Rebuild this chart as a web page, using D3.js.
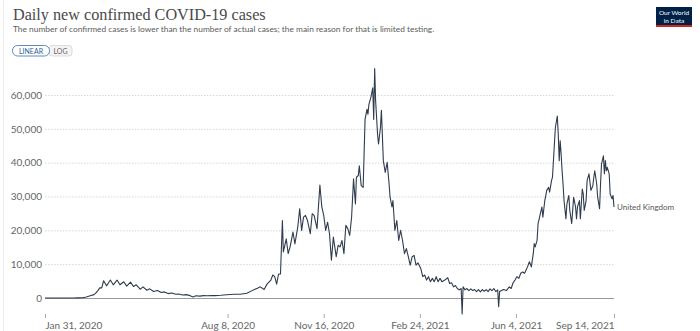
<!DOCTYPE html>
<html>
<head>
<meta charset="utf-8">
<script src="https://cdn.jsdelivr.net/npm/d3@7"></script>
<style>
  body { margin: 0; background: #fff; }
  text { font-family: Lato, "Open Sans", sans-serif; }
</style>
</head>
<body>
<svg id="chart" width="700" height="331"></svg>
<script>
// daily new confirmed cases, United Kingdom
const ukDaily = [
  ["2020-01-31", 2], ["2020-02-15", 1], ["2020-03-01", 12], ["2020-03-05", 50],
  ["2020-03-10", 80], ["2020-03-14", 300], ["2020-03-18", 650], ["2020-03-22", 1000],
  ["2020-03-24", 1500], ["2020-03-26", 2200], ["2020-03-28", 3000], ["2020-03-30", 3000],
  ["2020-04-01", 5100], ["2020-04-04", 3600], ["2020-04-08", 5300], ["2020-04-11", 3900],
  ["2020-04-15", 5300], ["2020-04-18", 3900], ["2020-04-22", 4800], ["2020-04-25", 3500],
  ["2020-04-29", 4700], ["2020-05-02", 3400], ["2020-05-05", 3900], ["2020-05-09", 2600],
  ["2020-05-12", 3300], ["2020-05-16", 2300], ["2020-05-19", 2700], ["2020-05-23", 1900],
  ["2020-05-27", 2200], ["2020-05-31", 1600], ["2020-06-03", 1800], ["2020-06-07", 1300],
  ["2020-06-11", 1500], ["2020-06-15", 1100], ["2020-06-18", 1200], ["2020-06-22", 900],
  ["2020-06-26", 1000], ["2020-06-30", 700], ["2020-07-03", 300], ["2020-07-06", 650],
  ["2020-07-10", 550], ["2020-07-14", 700], ["2020-07-18", 650], ["2020-07-22", 750],
  ["2020-07-26", 700], ["2020-08-01", 800], ["2020-08-07", 950], ["2020-08-15", 1100],
  ["2020-08-21", 1100], ["2020-08-28", 1400], ["2020-09-04", 2400], ["2020-09-08", 2900],
  ["2020-09-11", 3300], ["2020-09-15", 2500], ["2020-09-18", 4100], ["2020-09-22", 5300],
  ["2020-09-24", 6800], ["2020-09-26", 6300], ["2020-09-28", 4100], ["2020-09-30", 7100],
  ["2020-10-02", 7100], ["2020-10-04", 22900], ["2020-10-05", 13600], ["2020-10-08", 17500],
  ["2020-10-10", 13100], ["2020-10-12", 15100], ["2020-10-15", 19500], ["2020-10-17", 16000],
  ["2020-10-20", 21000], ["2020-10-22", 26400], ["2020-10-24", 20000], ["2020-10-26", 23900],
  ["2020-10-28", 24400], ["2020-10-30", 23000], ["2020-11-02", 19000], ["2020-11-04", 24900],
  ["2020-11-06", 24400], ["2020-11-09", 20500], ["2020-11-12", 33400], ["2020-11-14", 26900],
  ["2020-11-16", 24400], ["2020-11-18", 20000], ["2020-11-20", 22400], ["2020-11-22", 19000],
  ["2020-11-24", 11200], ["2020-11-26", 18000], ["2020-11-29", 12200], ["2020-12-01", 15600],
  ["2020-12-03", 15100], ["2020-12-05", 17000], ["2020-12-07", 13100], ["2020-12-09", 21500],
  ["2020-12-11", 20500], ["2020-12-13", 18500], ["2020-12-15", 23900], ["2020-12-17", 35200],
  ["2020-12-19", 27800], ["2020-12-20", 35700], ["2020-12-22", 36200], ["2020-12-23", 39100],
  ["2020-12-25", 33200], ["2020-12-27", 32700], ["2020-12-29", 52800], ["2020-12-31", 55800],
  ["2021-01-01", 54300], ["2021-01-02", 57200], ["2021-01-04", 59200], ["2021-01-06", 62100],
  ["2021-01-07", 52800], ["2021-01-08", 67800], ["2021-01-09", 58200], ["2021-01-11", 48400],
  ["2021-01-12", 45500], ["2021-01-14", 50400], ["2021-01-15", 55500], ["2021-01-17", 40600],
  ["2021-01-19", 37100], ["2021-01-20", 38600], ["2021-01-21", 40100], ["2021-01-23", 33700],
  ["2021-01-24", 29800], ["2021-01-26", 26900], ["2021-01-27", 28800], ["2021-01-29", 20000],
  ["2021-01-31", 22900], ["2021-02-02", 17000], ["2021-02-04", 20000], ["2021-02-06", 17000],
  ["2021-02-08", 13100], ["2021-02-10", 14600], ["2021-02-12", 12200], ["2021-02-14", 9700],
  ["2021-02-16", 12200], ["2021-02-18", 12600], ["2021-02-20", 9700], ["2021-02-22", 10400],
  ["2021-02-25", 8700], ["2021-02-27", 6300], ["2021-03-01", 6800], ["2021-03-03", 5300],
  ["2021-03-05", 6300], ["2021-03-07", 4800], ["2021-03-09", 5800], ["2021-03-11", 4800],
  ["2021-03-13", 6300], ["2021-03-15", 4800], ["2021-03-17", 5800], ["2021-03-19", 4800],
  ["2021-03-22", 5300], ["2021-03-25", 6000], ["2021-03-27", 4300], ["2021-03-29", 4500],
  ["2021-03-31", 3300], ["2021-04-02", 3700], ["2021-04-04", 2800], ["2021-04-06", 2400],
  ["2021-04-08", 2800], ["2021-04-09", -4700], ["2021-04-10", 3300], ["2021-04-12", 2400],
  ["2021-04-14", 2800], ["2021-04-16", 2200], ["2021-04-18", 2700], ["2021-04-20", 2200],
  ["2021-04-22", 2500], ["2021-04-24", 1900], ["2021-04-26", 2500], ["2021-04-28", 1800],
  ["2021-04-30", 2500], ["2021-05-02", 2000], ["2021-05-04", 2500], ["2021-05-06", 1900],
  ["2021-05-08", 2700], ["2021-05-10", 2200], ["2021-05-12", 2800], ["2021-05-14", 1900],
  ["2021-05-16", 2400], ["2021-05-17", -2600], ["2021-05-18", 1900], ["2021-05-22", 2500],
  ["2021-05-25", 2200], ["2021-05-28", 3300], ["2021-05-30", 2800], ["2021-06-01", 4500],
  ["2021-06-03", 5300], ["2021-06-05", 6300], ["2021-06-07", 5800], ["2021-06-09", 7300],
  ["2021-06-11", 7700], ["2021-06-13", 7300], ["2021-06-16", 9200], ["2021-06-18", 10700],
  ["2021-06-20", 9200], ["2021-06-22", 13100], ["2021-06-23", 16100], ["2021-06-24", 15100],
  ["2021-06-26", 17100], ["2021-06-27", 22000], ["2021-06-29", 24400], ["2021-07-01", 26900],
  ["2021-07-02", 23900], ["2021-07-04", 28800], ["2021-07-06", 31800], ["2021-07-08", 32700],
  ["2021-07-09", 31300], ["2021-07-11", 34700], ["2021-07-12", 35700], ["2021-07-14", 45500],
  ["2021-07-15", 50400], ["2021-07-17", 53800], ["2021-07-18", 48400], ["2021-07-19", 40600],
  ["2021-07-20", 46500], ["2021-07-21", 42500], ["2021-07-22", 37600], ["2021-07-23", 33700],
  ["2021-07-24", 28800], ["2021-07-26", 23400], ["2021-07-27", 27800], ["2021-07-29", 30300],
  ["2021-07-30", 25900], ["2021-08-01", 22000], ["2021-08-02", 25900], ["2021-08-03", 29800],
  ["2021-08-05", 26900], ["2021-08-06", 23400], ["2021-08-07", 26900], ["2021-08-09", 28800],
  ["2021-08-10", 23400], ["2021-08-12", 32200], ["2021-08-13", 30800], ["2021-08-14", 25900],
  ["2021-08-16", 28800], ["2021-08-17", 34700], ["2021-08-19", 36700], ["2021-08-20", 34200],
  ["2021-08-21", 31800], ["2021-08-23", 33200], ["2021-08-24", 35700], ["2021-08-25", 37600],
  ["2021-08-27", 33700], ["2021-08-28", 29800], ["2021-08-30", 26400], ["2021-08-31", 33700],
  ["2021-09-01", 39600], ["2021-09-03", 42000], ["2021-09-04", 36700], ["2021-09-05", 40600],
  ["2021-09-06", 37600], ["2021-09-07", 38600], ["2021-09-09", 36700], ["2021-09-10", 30800],
  ["2021-09-12", 29300], ["2021-09-13", 30300], ["2021-09-14", 26900]
];
const yTicks = [0, 10000, 20000, 30000, 40000, 50000, 60000];
const xTickDates = ["2020-01-31", "2020-08-08", "2020-11-16", "2021-02-24", "2021-06-04", "2021-09-14"];
const seriesName = "United Kingdom";

const parse = d3.timeParse("%Y-%m-%d");
const data = ukDaily.map(d => ({date: parse(d[0]), value: d[1]}));

const svg = d3.select("#chart");

// faint frame edge on the left
svg.append("line").attr("x1", 3.5).attr("x2", 3.5).attr("y1", 0).attr("y2", 331)
  .attr("stroke", "#ececec");

// header
svg.append("text").attr("x", 13).attr("y", 20)
  .style("font-family", "'Liberation Serif', 'DejaVu Serif', serif")
  .style("font-size", "16.2px").attr("fill", "#4a4a4a")
  .text("Daily new confirmed COVID-19 cases");
svg.append("text").attr("x", 13).attr("y", 32)
  .style("font-size", "8.4px").attr("fill", "#5b5b5b")
  .text("The number of confirmed cases is lower than the number of actual cases; the main reason for that is limited testing.");

// LINEAR / LOG toggle
const btn = svg.append("g");
btn.append("rect").attr("x", 49).attr("y", 45.5).attr("width", 23).attr("height", 10.5)
  .attr("rx", 3).attr("fill", "#f4f4f4").attr("stroke", "#d4d4d4").attr("stroke-width", 0.8);
btn.append("rect").attr("x", 12.5).attr("y", 45.5).attr("width", 37).attr("height", 10.5)
  .attr("rx", 5).attr("fill", "#fff").attr("stroke", "#4a7fb5").attr("stroke-width", 0.9);
btn.append("text").attr("x", 31).attr("y", 53.5).attr("text-anchor", "middle")
  .style("font-size", "7px").attr("fill", "#2e5f91").text("LINEAR");
btn.append("text").attr("x", 60.5).attr("y", 53.5).attr("text-anchor", "middle")
  .style("font-size", "7px").attr("fill", "#666").text("LOG");

// logo
const logo = svg.append("g");
logo.append("rect").attr("x", 656).attr("y", 7).attr("width", 36).attr("height", 20).attr("fill", "#002147");
logo.append("rect").attr("x", 656).attr("y", 25).attr("width", 36).attr("height", 2).attr("fill", "#ce261e");
logo.append("text").attr("x", 674).attr("y", 15).attr("text-anchor", "middle")
  .style("font-size", "6.5px").attr("fill", "#fff").text("Our World");
logo.append("text").attr("x", 674).attr("y", 22.5).attr("text-anchor", "middle")
  .style("font-size", "6.5px").attr("fill", "#fff").text("in Data");

// scales
const x = d3.scaleTime()
  .domain([parse(xTickDates[0]), parse(xTickDates[xTickDates.length - 1])])
  .range([45, 614]);
const y = d3.scaleLinear().domain([0, 60000]).range([298, 95]);

// y grid + labels
const yAxis = d3.axisLeft(y).tickValues(yTicks).tickSize(-(614 - 45))
  .tickFormat(d3.format(","));
const yg = svg.append("g").attr("transform", "translate(45,0)").call(yAxis);
yg.select(".domain").remove();
yg.selectAll(".tick line")
  .attr("stroke", d => d === 0 ? "#9a9a9a" : "#d6d6d6")
  .attr("stroke-dasharray", d => d === 0 ? null : "1.5,1.5");
yg.selectAll(".tick text").attr("x", -3).attr("fill", "#666")
  .style("font-size", "10px").style("font-family", "Lato, sans-serif");

// x axis
const xAxis = d3.axisBottom(x).tickValues(xTickDates.map(parse)).tickSize(4).tickPadding(4)
  .tickFormat(d3.timeFormat("%b %-d, %Y"));
const xg = svg.append("g").attr("transform", "translate(0,314)").call(xAxis);
xg.select(".domain").remove();
xg.selectAll(".tick line").attr("stroke", "#aaa");
xg.selectAll(".tick text").attr("fill", "#666")
  .style("font-size", "10px").style("font-family", "Lato, sans-serif")
  .attr("text-anchor", (d, i, n) => i === 0 ? "start" : (i === n.length - 1 ? "end" : "middle"));

// line
const line = d3.line().x(d => x(d.date)).y(d => y(d.value));
svg.append("path").datum(data)
  .attr("fill", "none").attr("stroke", "#2f3c4e").attr("stroke-width", 1.1)
  .attr("stroke-linejoin", "round").attr("d", line);

// series label at the end of the line
const last = data[data.length - 1];
svg.append("text").attr("x", x(last.date) + 3).attr("y", y(last.value) + 3)
  .style("font-size", "8px").attr("fill", "#555").text(seriesName);
</script>
</body>
</html>
